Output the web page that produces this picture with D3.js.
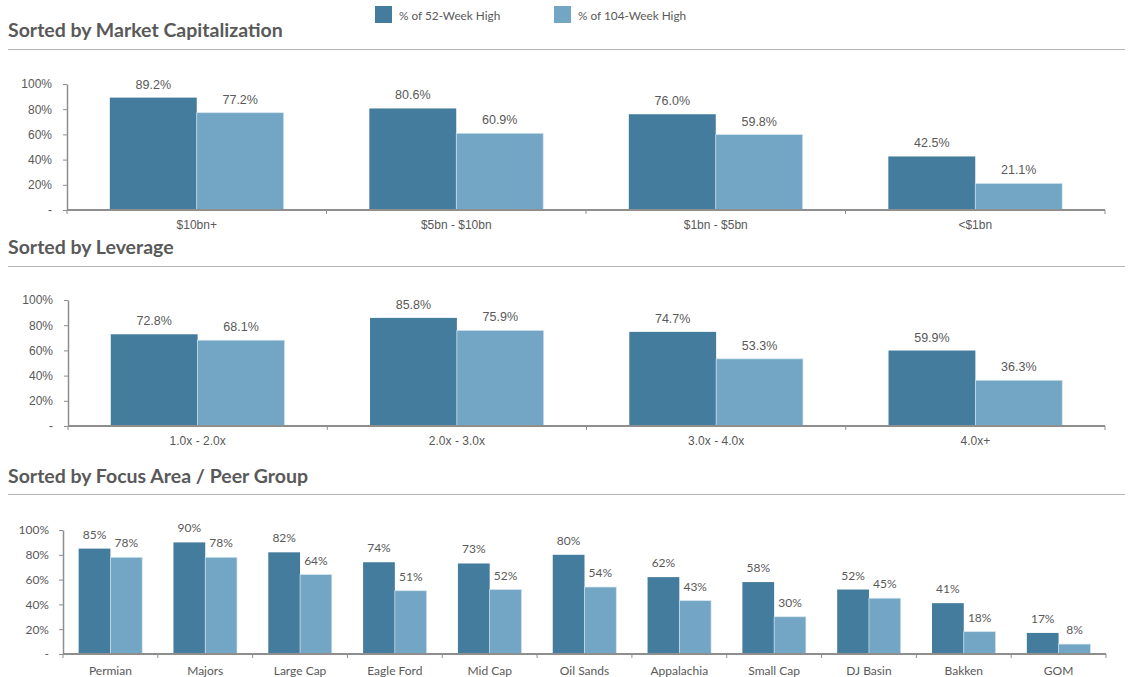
<!DOCTYPE html>
<html>
<head>
<meta charset="utf-8">
<script src="https://cdn.jsdelivr.net/npm/d3@7"></script>
<style>
  body { margin: 0; background: #fff; }
</style>
</head>
<body>
<div class="container"></div>
<script>
// data
var capCats = ["$10bn+", "$5bn - $10bn", "$1bn - $5bn", "<$1bn"];
var cap52 = [89.2, 80.6, 76.0, 42.5];
var cap104 = [77.2, 60.9, 59.8, 21.1];

var levCats = ["1.0x - 2.0x", "2.0x - 3.0x", "3.0x - 4.0x", "4.0x+"];
var lev52 = [72.8, 85.8, 74.7, 59.9];
var lev104 = [68.1, 75.9, 53.3, 36.3];

var peerCats = ["Permian", "Majors", "Large Cap", "Eagle Ford", "Mid Cap", "Oil Sands",
                "Appalachia", "Small Cap", "DJ Basin", "Bakken", "GOM"];
var peer52 = [85, 90, 82, 74, 73, 80, 62, 58, 52, 41, 17];
var peer104 = [78, 78, 64, 51, 52, 54, 43, 30, 45, 18, 8];

var seriesNames = ["% of 52-Week High", "% of 104-Week High"];
var yTicks = [0, 20, 40, 60, 80, 100];

var dark = "#437c9c";
var light = "#73a6c4";
var grey = "#595959";
var axisGrey = "#8e8e8e";

//Makes the stage
function makeStage(w, h) {
    var stage = d3.select(".container")
      .append("svg")
      .attr("width", w)
      .attr("height", h)
      .style("display", "block");
    return stage;
}

function drawTitle(stage, text, y, lineY) {
    stage.append("text").text(text)
      .attr("x", 8)
      .attr("y", y)
      .attr("font-family", "Lato")
      .attr("font-weight", "bold")
      .attr("font-size", 19.5)
      .attr("fill", grey);
    stage.append("line")
      .attr("x1", 8).attr("x2", 1125)
      .attr("y1", lineY).attr("y2", lineY)
      .attr("stroke", "#b4b4b4")
      .attr("stroke-width", 1);
}

function drawLegend(stage) {
    var xs = [375, 554];
    var cols = [dark, light];
    seriesNames.forEach(function (name, i) {
        stage.append("rect")
          .attr("x", xs[i]).attr("y", 6)
          .attr("width", 17).attr("height", 17)
          .attr("fill", cols[i]);
        stage.append("text").text(name)
          .attr("x", xs[i] + 24).attr("y", 19.5)
          .attr("font-family", "Lato")
          .attr("font-size", 11.8)
          .attr("fill", grey);
    });
}

//draws one grouped bar panel
function drawPanel(stage, cats, s1, s2, p) {
    var x = d3.scaleBand().domain(cats).range([p.left, p.right]);
    var y = d3.scaleLinear().domain([0, 100]).range([p.bottom, p.top]);
    var bw = x.bandwidth() * 0.335;
    var g = stage.append("g");

    // y axis
    var yAxis = d3.axisLeft(y)
      .tickValues(yTicks)
      .tickSize(4)
      .tickSizeOuter(0)
      .tickPadding(p.tickPad)
      .tickFormat(function (d) { return d === 0 ? "-" : d + "%"; });
    var ya = g.append("g")
      .attr("transform", "translate(" + p.left + ",0)")
      .call(yAxis);
    ya.select(".domain").attr("stroke", axisGrey).attr("stroke-width", 1.5);
    ya.selectAll(".tick line").attr("stroke", axisGrey);
    ya.selectAll(".tick text")
      .attr("font-family", p.font)
      .attr("font-size", p.size)
      .attr("fill", grey);

    // bars
    var series = [{vals: s1, col: dark, off: -bw}, {vals: s2, col: light, off: 0}];
    series.forEach(function (s, si) {
        g.selectAll(".bar" + si)
          .data(cats)
          .enter().append("rect")
          .attr("x", function (d) { return x(d) + x.bandwidth() / 2 + s.off; })
          .attr("y", function (d, i) { return y(s.vals[i]); })
          .attr("width", bw)
          .attr("height", function (d, i) { return p.bottom - y(s.vals[i]); })
          .attr("fill", s.col)
          .attr("stroke", si === 1 ? "#d3e3ed" : "none")
          .attr("stroke-width", 0.7);

        g.selectAll(".lab" + si)
          .data(cats)
          .enter().append("text")
          .text(function (d, i) { return p.fmt(s.vals[i]); })
          .attr("x", function (d) { return x(d) + x.bandwidth() / 2 + s.off + bw / 2; })
          .attr("y", function (d, i) { return y(s.vals[i]) - p.labGap; })
          .attr("text-anchor", "middle")
          .attr("font-family", p.font)
          .attr("font-size", p.valSize)
          .attr("fill", grey);
    });

    // x axis: category labels at centres, ticks at band edges
    var xa = g.append("g")
      .attr("transform", "translate(0," + p.bottom + ")")
      .call(d3.axisBottom(x).tickSize(0).tickPadding(p.catPad));
    xa.select(".domain").remove();
    xa.selectAll(".tick text")
      .attr("font-family", p.font)
      .attr("font-size", p.size)
      .attr("fill", grey);

    var edges = cats.map(function (c) { return x(c); }).concat([p.right]);
    g.selectAll(".edge")
      .data(edges)
      .enter().append("line")
      .attr("x1", function (d) { return d; })
      .attr("x2", function (d) { return d; })
      .attr("y1", p.bottom)
      .attr("y2", p.bottom + 4)
      .attr("stroke", axisGrey);
    g.append("line")
      .attr("x1", p.left).attr("x2", p.right)
      .attr("y1", p.bottom).attr("y2", p.bottom)
      .attr("stroke", axisGrey)
      .attr("stroke-width", 2);
}

var mystage = makeStage(1147, 677);

drawLegend(mystage);
drawTitle(mystage, "Sorted by Market Capitalization", 37, 49.5);
drawTitle(mystage, "Sorted by Leverage", 254, 266.5);
drawTitle(mystage, "Sorted by Focus Area / Peer Group", 483, 494.5);

var fmt1 = function (v) { return v.toFixed(1) + "%"; };
var fmt0 = function (v) { return Math.round(v) + "%"; };

drawPanel(mystage, capCats, cap52, cap104,
  {left: 67, right: 1105, top: 84, bottom: 210, font: "Liberation Sans", size: 12,
   valSize: 12.5, fmt: fmt1, labGap: 9, tickPad: 11, catPad: 10});
drawPanel(mystage, levCats, lev52, lev104,
  {left: 68, right: 1105, top: 300, bottom: 426, font: "Liberation Sans", size: 12,
   valSize: 12.5, fmt: fmt1, labGap: 9, tickPad: 11, catPad: 10});
drawPanel(mystage, peerCats, peer52, peer104,
  {left: 63, right: 1106, top: 530, bottom: 654, font: "Lato", size: 12,
   valSize: 12, fmt: fmt0, labGap: 10, tickPad: 10, catPad: 12});
</script>
</body>
</html>
